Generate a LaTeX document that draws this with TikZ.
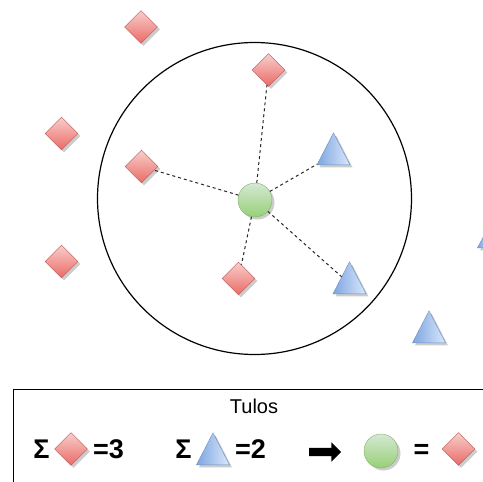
\documentclass[tikz,border=0pt]{standalone}
\usepackage{fontspec}
\setmainfont{Liberation Sans}
\usetikzlibrary{shapes.geometric,shapes.arrows,shadows}
\definecolor{redfill}{HTML}{F8CECC}
\definecolor{redgrad}{HTML}{EA6B66}
\definecolor{redline}{HTML}{B85450}
\definecolor{bluefill}{HTML}{DAE8FC}
\definecolor{bluegrad}{HTML}{7EA6E0}
\definecolor{blueline}{HTML}{6C8EBF}
\definecolor{greenfill}{HTML}{D5E8D4}
\definecolor{greengrad}{HTML}{97D077}
\definecolor{greenline}{HTML}{82B366}
\begin{document}
\begin{tikzpicture}[x=1pt,y=-1pt,
  softshadow/.style={drop shadow={shadow xshift=2.5pt,shadow yshift=-2.5pt,fill=black,opacity=0.2}},
  redgem/.style={shape=diamond,aspect=1,inner sep=0pt,minimum width=33pt,minimum height=33pt,
    draw=redline,top color=redfill,bottom color=redgrad,softshadow},
  bluetri/.style={shape=isosceles triangle,shape border rotate=90,isosceles triangle stretches,
    minimum width=33pt,minimum height=32pt,inner sep=0pt,anchor=lower side,
    draw=blueline,left color=bluegrad,right color=bluefill,softshadow},
  greenball/.style={shape=circle,inner sep=0pt,minimum size=34pt,
    draw=greenline,top color=greenfill,bottom color=greengrad,softshadow},
  link/.style={draw=black!85,line width=1pt,dash pattern=on 3pt off 3pt},
  caption/.style={font=\fontsize{20}{24}\selectfont,anchor=base,inner sep=0pt},
  sumtext/.style={font=\fontsize{27}{32}\selectfont\bfseries,anchor=base,inner sep=0pt}]
\useasboundingbox (0,0) rectangle (483,482);
\clip (0,0) rectangle (483,482);

% neighbourhood boundary
\node[draw,line width=1.2pt,ellipse,inner sep=0pt,minimum width=314pt,minimum height=312pt] (area) at (254.5,198.5) {};

% points outside the boundary
\node[redgem] (d1) at (141,27) {};
\node[redgem] (d2) at (61.5,133.5) {};
\node[redgem] (d3) at (61.5,261.5) {};
\node[bluetri] (t3) at (429,343) {};
\node[bluetri,minimum width=17pt,minimum height=16pt] (t4) at (486,248) {};

% points inside the boundary
\node[redgem] (d4) at (268.5,70) {};
\node[redgem] (d5) at (141.5,166.5) {};
\node[redgem] (d6) at (238.5,278.5) {};
\node[bluetri] (t1) at (333.5,165) {};
\node[bluetri] (t2) at (349.5,294) {};

% query point
\node[greenball] (q) at (255,200) {};

\draw[link] (q) -- (d4);
\draw[link] (q) -- (d5);
\draw[link] (q) -- (d6);
\draw[link] (q) -- (t1);
\draw[link] (q) -- (t2);

% result box
\draw[line width=1pt] (13,389) rectangle (500,500);
\node[caption] (title) at (254,413) {Tulos};

\node[sumtext] (s1) at (41.5,458) {Σ};
\node[redgem] (ld) at (71,449) {};
\node[sumtext] (n1) at (108.5,458) {=3};

\node[sumtext] (s2) at (183.5,458) {Σ};
\node[bluetri] (lt) at (213,465) {};
\node[sumtext] (n2) at (250.5,458) {=2};

\node[single arrow,fill=black,inner sep=4pt,minimum height=32pt,minimum width=19pt,
  single arrow head extend=5.5pt] (arr) at (323,452) {};

\node[greenball] (lq) at (381,451) {};
\node[sumtext] (eq) at (421.5,458) {=};
\node[redgem] (lr) at (458.5,449) {};
\end{tikzpicture}
\end{document}
